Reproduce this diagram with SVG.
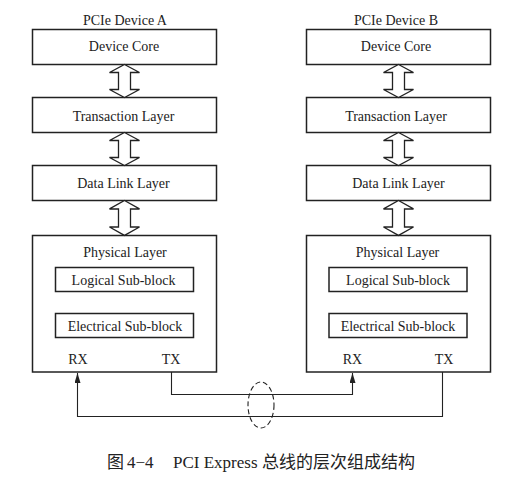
<svg xmlns="http://www.w3.org/2000/svg" width="511" height="481" viewBox="0 0 511 481">
  <style>
    .box { fill: #fff; stroke: #222; stroke-width: 1.5; }
    .sub { fill: #fff; stroke: #222; stroke-width: 1.5; }
    .dbl { fill: #fff; stroke: #222; stroke-width: 1.3; stroke-linejoin: miter; }
    .t { font-size: 14px; fill: #222; text-anchor: middle; }
    .wire { fill: none; stroke: #222; stroke-width: 1.1; }
    .cap { font-size: 17px; fill: #222; }
  </style>
  <defs>
    <path id="dblarrow" d="M0,0 L15,8 L6,8 L6,25 L15,25 L0,33 L-15,25 L-6,25 L-6,8 L-15,8 Z"/>
    <marker id="ah" viewBox="0 0 10 6" refX="10" refY="3" markerWidth="10" markerHeight="6" markerUnits="userSpaceOnUse" orient="auto">
      <path d="M0,0 L10,3 L0,6 Z" fill="#222"/>
    </marker>
  </defs>

  <g font-family="Liberation Serif, serif">
  <g id="deviceA">
    <text class="t" x="125" y="25">PCIe Device A</text>
    <g id="a-core">
      <rect class="box" x="32.5" y="29.5" width="184" height="35"/>
      <text class="t" x="124" y="51">Device Core</text>
    </g>
    <g id="a-trans">
      <rect class="box" x="32.5" y="97.5" width="184" height="35"/>
      <text class="t" x="123.5" y="121">Transaction Layer</text>
    </g>
    <g id="a-dll">
      <rect class="box" x="32.5" y="165.5" width="184" height="35"/>
      <text class="t" x="123.5" y="188">Data Link Layer</text>
    </g>
    <g id="a-phy">
      <rect class="box" x="32.5" y="235.5" width="184" height="136.5"/>
      <text class="t" x="125" y="257">Physical Layer</text>
      <rect class="sub" x="55.5" y="267.5" width="138" height="24"/>
      <text class="t" x="123.5" y="285">Logical Sub-block</text>
      <rect class="sub" x="55.5" y="313.5" width="138" height="24"/>
      <text class="t" x="125" y="331">Electrical Sub-block</text>
      <text class="t" x="78" y="364">RX</text>
      <text class="t" x="171" y="364">TX</text>
    </g>
  </g>

  <g id="deviceB">
    <text class="t" x="396" y="25">PCIe Device B</text>
    <g id="b-core">
      <rect class="box" x="306.5" y="29.5" width="184" height="35"/>
      <text class="t" x="396" y="51">Device Core</text>
    </g>
    <g id="b-trans">
      <rect class="box" x="306.5" y="97.5" width="184" height="35"/>
      <text class="t" x="396" y="121">Transaction Layer</text>
    </g>
    <g id="b-dll">
      <rect class="box" x="306.5" y="165.5" width="184" height="35"/>
      <text class="t" x="398.5" y="188">Data Link Layer</text>
    </g>
    <g id="b-phy">
      <rect class="box" x="306.5" y="235.5" width="184" height="136.5"/>
      <text class="t" x="397.5" y="257">Physical Layer</text>
      <rect class="sub" x="329" y="267.5" width="138" height="24"/>
      <text class="t" x="398" y="285">Logical Sub-block</text>
      <rect class="sub" x="329" y="313.5" width="138" height="24"/>
      <text class="t" x="398" y="331">Electrical Sub-block</text>
      <text class="t" x="352.5" y="364">RX</text>
      <text class="t" x="444" y="364">TX</text>
    </g>
  </g>
  </g>

  <g id="connectors">
    <use href="#dblarrow" class="dbl" x="124.5" y="64.5"/>
    <use href="#dblarrow" class="dbl" x="124.5" y="132.5"/>
    <use href="#dblarrow" class="dbl" transform="translate(124.5,200.5) scale(1,1.06)"/>
    <use href="#dblarrow" class="dbl" x="398.5" y="64.5"/>
    <use href="#dblarrow" class="dbl" x="398.5" y="132.5"/>
    <use href="#dblarrow" class="dbl" transform="translate(398.5,200.5) scale(1,1.06)"/>
    <path class="wire" d="M171.5,372 L171.5,394.5 L352.5,394.5 L352.5,373" marker-end="url(#ah)"/>
    <path class="wire" d="M442.5,372 L442.5,416.5 L77.5,416.5 L77.5,373" marker-end="url(#ah)"/>
    <ellipse cx="261" cy="405" rx="13" ry="23" fill="none" stroke="#222" stroke-width="1.1" stroke-dasharray="5,3"/>
  </g>

  <text class="cap" y="468" font-family="Liberation Serif, Noto Sans CJK SC, serif"><tspan x="107" font-family="Noto Sans CJK SC, serif">图</tspan><tspan x="127">4−4</tspan><tspan x="173">PCI Express</tspan><tspan x="262" font-family="Noto Sans CJK SC, serif">总线的层次组成结构</tspan></text>
</svg>
